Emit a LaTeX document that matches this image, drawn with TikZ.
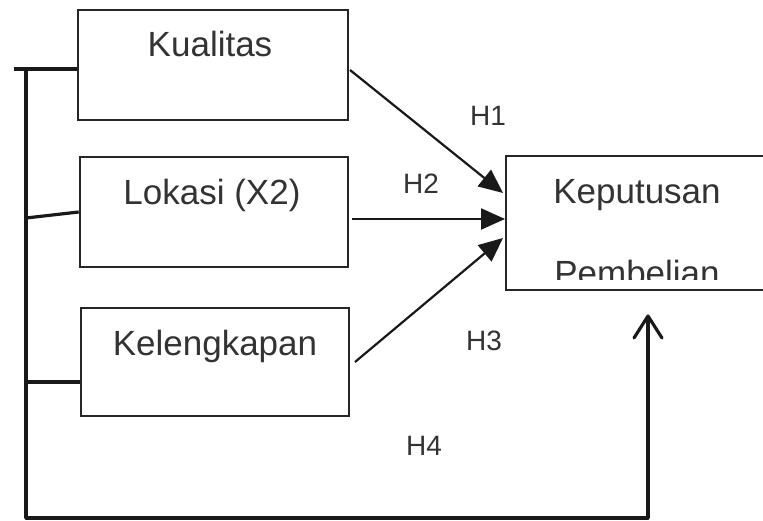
\documentclass[tikz,border=0pt]{standalone}
\usepackage{fontspec}
\setmainfont{Liberation Sans}
\usetikzlibrary{arrows.meta}
\begin{document}
\begin{tikzpicture}[x=1pt,y=-1pt,
  boxstyle/.style={draw=black!85,line width=2.6pt,rectangle,inner sep=0pt},
  maintext/.style={font=\fontsize{35}{38}\selectfont,text=black!80,inner sep=0pt,anchor=base},
  htext/.style={font=\fontsize{28}{30}\selectfont,text=black!80,inner sep=0pt},
  arr/.style={line width=2.2pt,draw=black!90,-{Triangle[length=24pt,width=21pt]}},
  brk/.style={line width=3.2pt,draw=black!90}]
\useasboundingbox (0,0) rectangle (763,521);
\fill[white] (0,0) rectangle (763,521);
% boxes
\node[boxstyle,minimum width=270pt,minimum height=110pt] (kual) at (213,65) {};
\node[boxstyle,minimum width=268pt,minimum height=110pt] (lok) at (214,212) {};
\node[boxstyle,minimum width=268pt,minimum height=108pt] (kel) at (215,362) {};
\node[maintext] (tkual) at (210,57) {Kualitas};
\node[maintext] (tlok) at (212,205) {Lokasi (X2)};
\node[maintext] (tkel) at (215,355) {Kelengkapan};
% target box (extends past the right edge)
\coordinate (kpTL) at (506,156);
\coordinate (kpBL) at (506,290);
\draw[draw=black!85,line width=2.6pt] (763,156) -- (kpTL) -- (kpBL) -- (763,290);
\node[maintext] (tkep) at (637,204) {Keputusan};
\begin{scope}
\clip (510,240) rectangle (763,280);
\node[maintext] (tpem) at (637,286) {Pembelian};
\end{scope}
% arrows
\coordinate (a1s) at (350,70);
\coordinate (a1e) at (503,193);
\coordinate (a2s) at (352,219);
\coordinate (a2e) at (505,219);
\coordinate (a3s) at (355,362);
\coordinate (a3e) at (503,238);
\draw[arr] (a1s) -- (a1e);
\draw[arr] (a2s) -- (a2e);
\draw[arr] (a3s) -- (a3e);
\node[htext] (h1) at (488,116) {H1};
\node[htext] (h2) at (421,184) {H2};
\node[htext] (h3) at (484,341) {H3};
\node[htext] (h4) at (424,446) {H4};
% left bracket
\coordinate (bt) at (26,69);
\coordinate (bb) at (26,518);
\coordinate (bl) at (14,69);
\coordinate (b2) at (26,218);
\coordinate (b3) at (26,382);
\coordinate (corner) at (648,518);
\coordinate (tip) at (648,316);
\draw[brk] (bl) -- (kual.west |- bl);
\draw[brk] (bt) -- (bb);
\draw[brk] (b2) -- (lok.west);
\draw[brk] (b3) -- (kel.west |- b3);
\draw[brk,line cap=round] (bb) -- (corner);
\draw[brk] (corner) -- (tip);
\draw[brk,line cap=round,line join=round] (634,338) -- (tip) -- (662,338);
\end{tikzpicture}
\end{document}
